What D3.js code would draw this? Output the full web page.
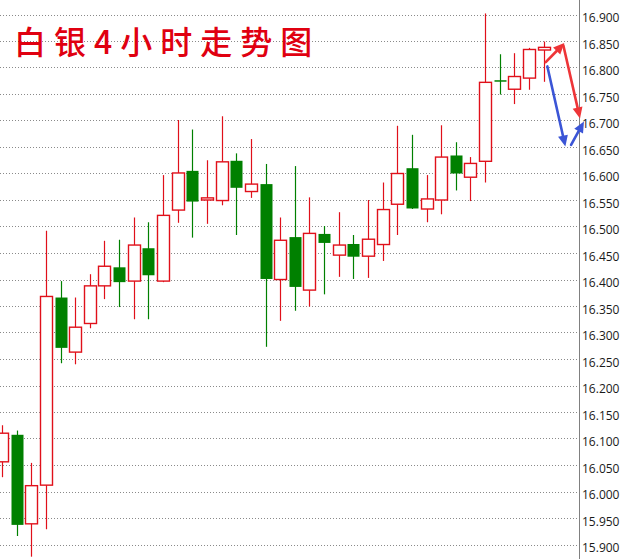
<!DOCTYPE html>
<html><head><meta charset="utf-8">
<script src="https://cdn.jsdelivr.net/npm/d3@7"></script>
<style>html,body{margin:0;padding:0;background:#fff;overflow:hidden}</style>
</head><body>
<svg id="chart" width="625" height="559"></svg>
<script>
const title = "白银4小时走势图";
const openV  = [16.056,16.107,15.939,16.012,16.366,16.263,16.317,16.388,16.423,16.397,16.459,16.397,16.531,16.605,16.550,16.549,16.624,16.566,16.580,16.400,16.480,16.380,16.486,16.446,16.467,16.444,16.466,16.542,16.610,16.533,16.550,16.634,16.593,16.623,16.776,16.759,16.780,16.833];
const highV  = [16.125,16.115,16.054,16.492,16.397,16.366,16.410,16.473,16.475,16.517,16.508,16.597,16.701,16.683,16.625,16.708,16.638,16.665,16.618,16.517,16.614,16.555,16.501,16.527,16.484,16.550,16.583,16.690,16.673,16.597,16.691,16.659,16.631,16.902,16.825,16.827,16.837,16.849];
const lowV   = [16.027,15.916,15.877,15.929,16.242,16.240,16.308,16.363,16.348,16.325,16.325,16.395,16.507,16.479,16.505,16.540,16.484,16.554,16.273,16.322,16.341,16.349,16.372,16.405,16.401,16.403,16.435,16.484,16.533,16.508,16.523,16.568,16.548,16.583,16.749,16.731,16.758,16.773];
const closeV = [16.110,15.937,16.011,16.368,16.271,16.310,16.388,16.425,16.395,16.465,16.408,16.521,16.601,16.547,16.554,16.622,16.573,16.580,16.401,16.474,16.386,16.487,16.469,16.465,16.443,16.476,16.532,16.600,16.534,16.552,16.631,16.600,16.619,16.772,16.774,16.783,16.834,16.838];
const tickLabels = ["15.900","15.950","16.000","16.050","16.100","16.150","16.200","16.250","16.300","16.350","16.400","16.450","16.500","16.550","16.600","16.650","16.700","16.750","16.800","16.850","16.900"];
// forecast arrows: [fromIndex, fromPrice, toIndex, toPrice]
const redArrows  = [[37.14,16.810,38.41,16.846],[38.34,16.842,39.48,16.704]];
const blueArrows = [[37.25,16.802,38.48,16.651],[38.87,16.654,39.75,16.698]];

const svg = d3.select("#chart");
const W = 625, H = 559, axisX = 579;
const x = d3.scaleLinear().domain([0, 37]).range([2, 543.7]);
const y = d3.scaleLinear().domain([15.9, 16.9]).range([544.5, 14.5]);
const bodyW = 12;
const RED = "#e0101a", GREEN = "#008000";

// grid
const grid = svg.append("g");
tickLabels.forEach(t => {
  const yy = Math.round(y(+t)) + 0.5;
  grid.append("line").attr("x1", 0).attr("x2", axisX).attr("y1", yy).attr("y2", yy)
    .attr("stroke", "#8a8a8a").attr("stroke-width", 1).attr("stroke-dasharray", "1,2");
});

// axis
const axis = d3.axisRight(y).tickValues(tickLabels.map(Number)).tickSize(0)
  .tickFormat(d => d3.format(".3f")(d));
const ag = svg.append("g").attr("transform", `translate(${axisX},0)`).call(axis);
ag.select(".domain").remove();
ag.selectAll("text").attr("x", 3).attr("dy", "0.62em")
  .style("font-family", "'Open Sans', 'Liberation Sans', sans-serif").style("font-size", "12px").attr("fill", "#1a1a1a");
svg.append("line").attr("x1", axisX + 0.5).attr("x2", axisX + 0.5).attr("y1", 0).attr("y2", H)
  .attr("stroke", "#808080").attr("stroke-width", 1);

// candles
const data = openV.map((o, i) => ({ i, o, h: highV[i], l: lowV[i], c: closeV[i] }));
const cg = svg.append("g");
const candle = cg.selectAll("g").data(data).join("g");
candle.append("line")
  .attr("x1", d => Math.round(x(d.i)) + 0.5).attr("x2", d => Math.round(x(d.i)) + 0.5)
  .attr("y1", d => y(d.h)).attr("y2", d => y(d.l))
  .attr("stroke", d => d.c >= d.o ? RED : GREEN).attr("stroke-width", 1.2);
candle.append("rect")
  .attr("x", d => Math.round(x(d.i)) - bodyW / 2 + 0.5)
  .attr("width", bodyW)
  .attr("y", d => y(Math.max(d.o, d.c)))
  .attr("height", d => Math.max(1.5, Math.abs(y(d.o) - y(d.c))))
  .attr("fill", d => d.c >= d.o ? "#fff" : GREEN)
  .attr("stroke", d => d.c >= d.o ? RED : "none")
  .attr("stroke-width", 1.4);

// arrows
function arrow(a, color) {
  const x1 = x(a[0]), y1 = y(a[1]), x2 = x(a[2]), y2 = y(a[3]);
  const ang = Math.atan2(y2 - y1, x2 - x1);
  const hl = 11, hw = 5;
  const bx = x2 - hl * Math.cos(ang), by = y2 - hl * Math.sin(ang);
  svg.append("line").attr("x1", x1).attr("y1", y1).attr("x2", bx).attr("y2", by)
    .attr("stroke", color).attr("stroke-width", 2.6).attr("stroke-linecap", "round");
  const px = -Math.sin(ang), py = Math.cos(ang);
  svg.append("path")
    .attr("d", `M${x2},${y2}L${bx + px * hw},${by + py * hw}L${bx - px * hw},${by - py * hw}Z`)
    .attr("fill", color);
}
redArrows.forEach(a => arrow(a, "#ee3538"));
blueArrows.forEach(a => arrow(a, "#3b55d6"));

// title
svg.append("text").attr("x", 14).attr("y", 54).text(title)
  .attr("fill", "#e00010")
  .style("font-family", "'Noto Sans CJK SC', sans-serif")
  .style("font-size", "32px").style("font-weight", 500)
  .style("letter-spacing", "8px");
</script>
</body></html>
